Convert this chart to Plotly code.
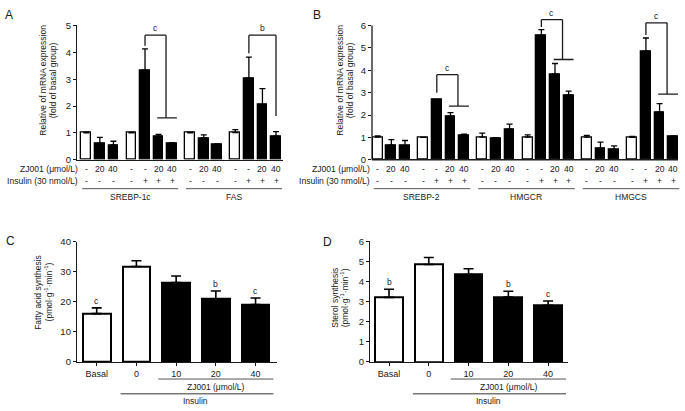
import plotly.graph_objects as go

W, H = 685, 411
FONT = "Liberation Sans, Arial, sans-serif"
INK = "#1a1a1a"

# ---------------- data ----------------
# Panel A (relative mRNA expression)
a_genes = ["SREBP-1c", "FAS"]
a_means = [[1.00, 0.62, 0.55, 1.00, 3.33, 0.86, 0.61],
           [1.00, 0.81, 0.58, 1.01, 3.04, 2.05, 0.88]]
a_errs = [[0.03, 0.21, 0.14, 0.02, 0.80, 0.08, 0.03],
          [0.03, 0.12, 0.01, 0.11, 0.78, 0.60, 0.17]]
# Panel B
b_genes = ["SREBP-2", "HMGCR", "HMGCS"]
b_means = [[1.01, 0.65, 0.62, 1.00, 2.67, 1.95, 1.10],
           [1.01, 0.95, 1.37, 1.01, 5.56, 3.83, 2.89],
           [1.01, 0.51, 0.44, 1.00, 4.84, 2.13, 1.05]]
b_errs = [[0.06, 0.25, 0.24, 0.00, 0.00, 0.16, 0.04],
          [0.18, 0.04, 0.22, 0.10, 0.25, 0.47, 0.18],
          [0.08, 0.28, 0.18, 0.04, 0.60, 0.38, 0.02]]
zj_row = ["-", "20", "40", "-", "-", "20", "40"]
ins_row = ["-", "-", "-", "-", "+", "+", "+"]
white_bars = [0, 3]

# brackets: gene, top level, left-leg bottom, right-leg bottom, letter, T-bar?
a_brackets = [(0, 4.64, 4.24, 1.56, "c", True),
              (1, 4.64, 3.97, 1.63, "b", False)]
b_brackets = [(0, 3.80, 2.99, 2.40, "c", True),
              (1, 6.26, 5.93, 4.48, "c", True),
              (2, 6.12, 5.57, 2.93, "c", True)]

# Panel C / D
cd_labels = ["Basal", "0", "10", "20", "40"]
c_means = [16.1, 31.8, 26.4, 21.0, 19.1]
c_errs = [1.9, 1.9, 2.2, 2.6, 2.2]
c_sig = ["c", "", "", "b", "c"]
d_means = [3.21, 4.84, 4.34, 3.23, 2.81]
d_errs = [0.40, 0.35, 0.29, 0.28, 0.22]
d_sig = ["b", "", "", "b", "c"]
cd_white = [0, 1]

# ---------------- helpers ----------------
GAP = 0.33


def px(x):
    return x / W


def py(y):
    return 1 - y / H


def gene_pos(g, i):
    return g * (7 + 2 * GAP) + i + (GAP if i >= 3 else 0)


fig = go.Figure()
shapes = []
annots = []


def txt(text, x, y, xref="paper", yref="paper", size=9, xanchor="center",
        yanchor="middle", angle=0, **kw):
    annots.append(dict(text=text, x=x, y=y, xref=xref, yref=yref,
                       showarrow=False, xanchor=xanchor, yanchor=yanchor,
                       textangle=angle, borderpad=0,
                       font=dict(family=FONT, size=size, color=INK), **kw))


def line(x0, y0, x1, y1, xref, yref, color=INK, width=1.3):
    shapes.append(dict(type="line", x0=x0, y0=y0, x1=x1, y1=y1, xref=xref,
                       yref=yref, line=dict(color=color, width=width)))


ROW1, ROW2 = 167.5, 179.3


def gene_panel(genes, means, errs, brackets, xa, ya, row_label_right):
    xs, ys, es, cols = [], [], [], []
    for g, _ in enumerate(genes):
        for i in range(7):
            xs.append(gene_pos(g, i))
            ys.append(means[g][i])
            es.append(errs[g][i])
            cols.append("white" if i in white_bars else "black")
    fig.add_trace(go.Bar(
        x=xs, y=ys, width=0.72, xaxis=xa, yaxis=ya,
        marker=dict(color=cols, line=dict(color="black", width=1.3)),
        error_y=dict(type="data", symmetric=False, array=es,
                     arrayminus=[0] * len(es), thickness=1.3, width=3,
                     color="black"),
        showlegend=False, hoverinfo="skip"))
    xr, yr = xa, ya
    for g, name in enumerate(genes):
        for i in range(7):
            txt(zj_row[i], gene_pos(g, i), py(ROW1), xref=xr, size=8.6)
            txt(ins_row[i], gene_pos(g, i), py(ROW2), xref=xr, size=8.6)
        x0 = gene_pos(g, 0) - 0.3
        x1 = gene_pos(g, 6) + 0.45
        line(x0, py(187.7), x1, py(187.7), xr, "paper", color="#555", width=1)
        txt(name, (x0 + x1) / 2, py(196.5), xref=xr, size=8.5)
    txt("ZJ001 (μmol/L)", px(row_label_right), py(ROW1), xanchor="right", size=8.6)
    txt("Insulin (30 nmol/L)", px(row_label_right), py(ROW2), xanchor="right", size=8.6)
    for g, top, lb, rb, letter, tee in brackets:
        xl = gene_pos(g, 4)
        if tee:
            xrt = (gene_pos(g, 5) + gene_pos(g, 6)) / 2 + 0.05
            line(gene_pos(g, 5) - 0.1, rb, gene_pos(g, 6) + 0.35, rb, xr, yr)
        else:
            xrt = gene_pos(g, 6)
        line(xl, lb, xl, top, xr, yr)
        line(xl, top, xrt, top, xr, yr)
        line(xrt, top, xrt, rb, xr, yr)
        txt(letter, (xl + xrt) / 2, top, xref=xr, yref=yr, yanchor="bottom",
            size=8.5, yshift=1)


gene_panel(a_genes, a_means, a_errs, a_brackets, "x", "y", 79)
gene_panel(b_genes, b_means, b_errs, b_brackets, "x2", "y2", 371)


def synth_panel(means, errs, sig, xa, ya):
    cols = ["white" if i in cd_white else "black" for i in range(len(means))]
    fig.add_trace(go.Bar(
        x=list(range(len(means))), y=means, width=0.7, xaxis=xa, yaxis=ya,
        marker=dict(color=cols, line=dict(color="black", width=2)),
        error_y=dict(type="data", symmetric=False, array=errs,
                     arrayminus=[0] * len(errs), thickness=1.6, width=5,
                     color="black"),
        showlegend=False, hoverinfo="skip"))
    for i, s in enumerate(sig):
        if s:
            txt(s, i, means[i] + errs[i], xref=xa, yref=ya, yanchor="bottom",
                size=8.5, yshift=1)
    line(1.55, py(383.3), 4.45, py(383.3), xa, "paper", color="#555", width=1)
    txt("ZJ001 (μmol/L)", 3.0, py(391), xref=xa, size=8.5)
    line(0.6, py(398.5), 4.45, py(398.5), xa, "paper", color="#333", width=1)
    txt("Insulin", 2.5, py(406), xref=xa, size=8.5)


synth_panel(c_means, c_errs, c_sig, "x3", "y3")
synth_panel(d_means, d_errs, d_sig, "x4", "y4")

# B axis lines drawn manually (range extended to fit brackets)
line(-0.418, 0, 22.0, 0, "x2", "y2 domain", width=1.3)
line(0, 0, 0, 6, "x2 domain", "y2", width=1.3)

# y titles (two lines each) and panel letters
y_titles = [
    ("Relative of mRNA expression", "(fold of basal group)", 48, 76),
    ("Relative of mRNA expression", "(fold of basal group)", 345, 76),
    ("Fatty acid synthesis", "(pmol·g<sup>-1</sup>·min<sup>-1</sup>)", 43, 294),
    ("Sterol synthesis", "(pmol·g<sup>-1</sup>·min<sup>-1</sup>)", 340, 300),
]
for l1, l2, cx, cy in y_titles:
    txt(l1, px(cx - 5.3), py(cy), size=8.5, angle=-90)
    txt(l2, px(cx + 5.3), py(cy), size=8.5, angle=-90)
for lab, x, y in [("A", 9, 9), ("B", 317, 9), ("C", 10, 241), ("D", 327, 242)]:
    txt(lab, px(x), py(y), size=12)

common_y = dict(showgrid=False, zeroline=False, ticks="outside", ticklen=3,
                tickwidth=1.2, tickcolor=INK, linecolor=INK, linewidth=1.3,
                tickfont=dict(family=FONT, size=9.5, color=INK), fixedrange=True)
common_x = dict(showgrid=False, zeroline=False, linecolor=INK, linewidth=1.3,
                fixedrange=True)

fig.update_layout(
    width=W, height=H, margin=dict(l=0, r=0, t=0, b=0),
    paper_bgcolor="white", plot_bgcolor="white", bargap=0,
    font=dict(family=FONT, color=INK),
    xaxis=dict(domain=[px(77), px(283)], range=[-0.686, 14.506], showline=True,
               showticklabels=False, ticks="", anchor="y", **common_x),
    yaxis=dict(domain=[py(158), py(20)], range=[0, 5], dtick=1, showline=True,
               anchor="x", **common_y),
    xaxis2=dict(domain=[px(372), px(684)], range=[-0.418, 22.44], showline=False,
                showticklabels=False, ticks="", anchor="y2", **common_x),
    yaxis2=dict(domain=[py(158), py(158 - 6.4 * 23)], range=[0, 6.4],
                tickvals=[0, 1, 2, 3, 4, 5, 6], showline=False, anchor="x2", **common_y),
    xaxis3=dict(domain=[px(77), px(277)], range=[-0.496, 4.54], showline=True,
                tickvals=list(range(5)), ticktext=cd_labels, ticks="outside",
                ticklen=3, tickcolor=INK,
                tickfont=dict(family=FONT, size=9, color=INK), anchor="y3", **common_x),
    yaxis3=dict(domain=[py(365.7), py(242.3)], range=[0, 40], dtick=10,
                showline=True, anchor="x3", **common_y),
    xaxis4=dict(domain=[px(370), px(568)], range=[-0.478, 4.5], showline=True,
                tickvals=list(range(5)), ticktext=cd_labels, ticks="outside",
                ticklen=3, tickcolor=INK,
                tickfont=dict(family=FONT, size=9, color=INK), anchor="y4", **common_x),
    yaxis4=dict(domain=[py(365.7), py(241.7)], range=[0, 6], dtick=1,
                showline=True, anchor="x4", **common_y),
    shapes=shapes, annotations=annots,
)

fig.write_html("out.html", config={"displayModeBar": False},
               post_script="document.body.style.margin='0';")
